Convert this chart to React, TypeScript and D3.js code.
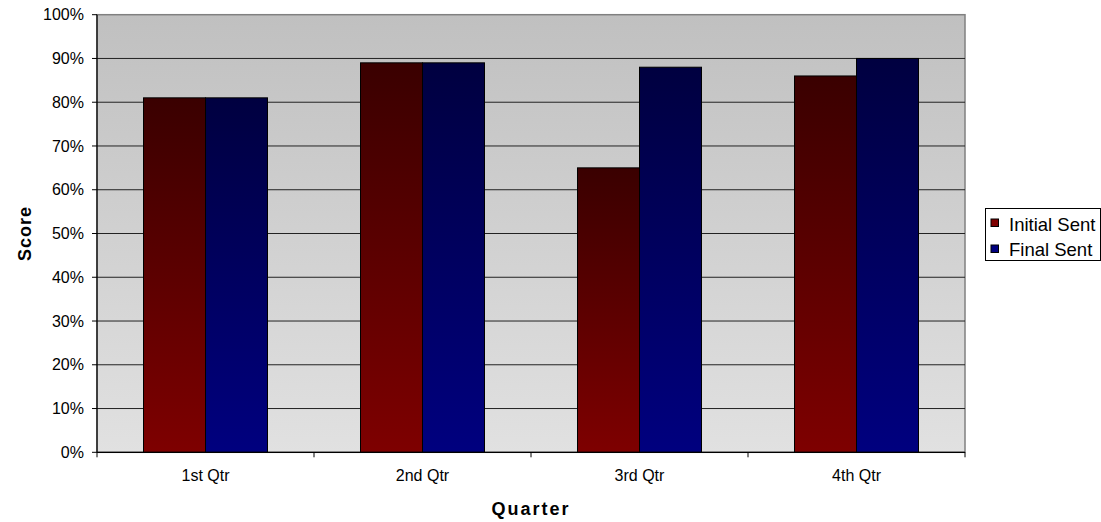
import React from "react";
import * as d3 from "d3";

const categories = ["1st Qtr", "2nd Qtr", "3rd Qtr", "4th Qtr"];
const seriesNames = ["Initial Sent", "Final Sent"];
const initialSent = [81, 89, 65, 86];
const finalSent = [81, 89, 88, 90];
const yTicks = [0, 10, 20, 30, 40, 50, 60, 70, 80, 90, 100];

const W = 1101, H = 522;
const L = 97, R = 965, T = 14.7, B = 452.3;

export default function App() {
  const x = d3.scaleBand<string>().domain(categories).range([L, R]).paddingInner(0).paddingOuter(0);
  const y = d3.scaleLinear().domain([0, 100]).range([B, T]);
  const bw = x.bandwidth() / 3.5;
  const series = [initialSent, finalSent];
  const fills = ["url(#gRed)", "url(#gBlue)"];
  const font = "'Liberation Sans', Arial, sans-serif";
  return (
    <svg width={W} height={H} style={{ position: "absolute", left: 0, top: 0 }} fontFamily={font}>
      <defs>
        <linearGradient id="gBg" x1="0" y1="0" x2="0" y2="1">
          <stop offset="0" stopColor="#c0c0c0" />
          <stop offset="1" stopColor="#e1e1e1" />
        </linearGradient>
        <linearGradient id="gRed" x1="0" y1="0" x2="0" y2="1">
          <stop offset="0" stopColor="#3a0000" />
          <stop offset="1" stopColor="#7e0000" />
        </linearGradient>
        <linearGradient id="gBlue" x1="0" y1="0" x2="0" y2="1">
          <stop offset="0" stopColor="#000040" />
          <stop offset="1" stopColor="#00007f" />
        </linearGradient>
      </defs>
      <rect x={0} y={0} width={W} height={H} fill="#fff" />
      <rect x={L} y={T} width={R - L} height={B - T} fill="url(#gBg)" stroke="#808080" strokeWidth={1.5} />
      {yTicks.slice(1, -1).map((t) => (
        <line key={t} x1={L} x2={R} y1={y(t)} y2={y(t)} stroke="#222" strokeWidth={1} />
      ))}
      {categories.map((c, i) =>
        series.map((s, k) => {
          const bx = (x(c) as number) + bw * 0.75 + k * bw;
          return (
            <rect key={c + k} x={bx} y={y(s[i])} width={bw} height={B - y(s[i])}
              fill={fills[k]} stroke="#000" strokeWidth={1} />
          );
        })
      )}
      <line x1={L} x2={L} y1={T} y2={B} stroke="#000" strokeWidth={1.2} />
      <line x1={L} x2={R} y1={B} y2={B} stroke="#000" strokeWidth={1.2} />
      {yTicks.map((t) => (
        <g key={t}>
          <line x1={L - 5} x2={L} y1={y(t)} y2={y(t)} stroke="#000" />
          <text x={L - 13} y={y(t)} dy="0.35em" textAnchor="end" fontSize={16} fill="#000">{t}%</text>
        </g>
      ))}
      {categories.concat(["end"]).map((c, i) => {
        const xx = L + i * x.step();
        return <line key={"t" + i} x1={xx} x2={xx} y1={B} y2={B + 5} stroke="#000" />;
      })}
      {categories.map((c) => (
        <text key={c} x={(x(c) as number) + x.bandwidth() / 2} y={B + 28.5} textAnchor="middle" fontSize={16} fill="#000">{c}</text>
      ))}
      <text x={(L + R) / 2} y={515} textAnchor="middle" fontSize={18} fontWeight="bold" letterSpacing={2}>Quarter</text>
      <text transform={`translate(31,${(T + B) / 2}) rotate(-90)`} textAnchor="middle" fontSize={18} fontWeight="bold" letterSpacing={1}>Score</text>
      <rect x={985.5} y={208.5} width={115} height={52} fill="#fff" stroke="#000" strokeWidth={1} />
      {seriesNames.map((n, k) => (
        <g key={n}>
          <rect x={991} y={219 + k * 26} width={7.5} height={7.5} fill={k === 0 ? "#7e0000" : "#00007f"} stroke="#000" />
          <text x={1009} y={230.5 + k * 25} fontSize={18.5} fill="#000">{n}</text>
        </g>
      ))}
    </svg>
  );
}
